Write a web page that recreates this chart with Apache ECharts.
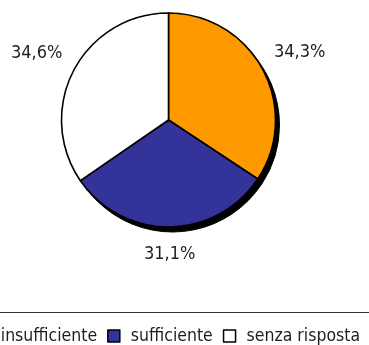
<!DOCTYPE html>
<html>
<head>
<meta charset="utf-8">
<script src="https://cdn.jsdelivr.net/npm/echarts/dist/echarts.min.js"></script>
<style>
  html, body { margin: 0; padding: 0; background: #fff; }
  #chart { width: 369px; height: 345px; }
</style>
</head>
<body>
<div id="chart"></div>
<script>
// Survey answers, percentages
const categories = ['insufficiente', 'sufficiente', 'senza risposta'];
const values = [34.3, 31.1, 34.6];
const colors = ['#FF9900', '#333399', '#FFFFFF'];

const FONT = "'DejaVu Sans Condensed', 'Liberation Sans Narrow', 'Arial Narrow', sans-serif";
const CX = 168.5, CY = 120, R = 107;
const SHADOW_DX = 4, SHADOW_DY = 5;
const LABEL_GAP = 15;
const LABEL_BASELINE_SHIFT = 3;

const total = values.reduce((a, b) => a + b, 0);

function fmt(v) {
  return v.toFixed(1).replace('.', ',') + '%';
}

// Outside label centre, placed along the slice's mid angle
function labelPos(i, w, h) {
  let before = 0;
  for (let k = 0; k < i; k++) before += values[k];
  const a = (before + values[i] / 2) / total * 2 * Math.PI;
  const dx = Math.sin(a), dy = -Math.cos(a);
  const d = R + LABEL_GAP + Math.abs(dx) * w / 2 + Math.abs(dy) * h / 2;
  return { x: CX + dx * d, y: CY + dy * d + LABEL_BASELINE_SHIFT };
}

const chart = echarts.init(document.getElementById('chart'), null, { renderer: 'canvas' });

chart.setOption({
  animation: false,
  color: colors,
  textStyle: { fontFamily: FONT },
  legend: {
    data: categories,
    left: -23,
    top: 327,
    width: 440,
    padding: 0,
    itemGap: 10,
    itemWidth: 12,
    itemHeight: 12,
    icon: 'rect',
    selectedMode: false,
    itemStyle: { borderColor: '#000', borderWidth: 1.5 },
    textStyle: { fontFamily: FONT, fontSize: 17.5, color: '#1e1e1e', padding: [0, 0, 0, 6] }
  },
  graphic: [{
    type: 'line',
    shape: { x1: 0, y1: 312.5, x2: 369, y2: 312.5 },
    style: { stroke: '#333', lineWidth: 1 },
    silent: true
  }],
  series: [
    {
      // drop shadow behind the pie
      type: 'pie',
      silent: true,
      center: [CX + SHADOW_DX, CY + SHADOW_DY],
      radius: R,
      startAngle: 90,
      clockwise: true,
      label: { show: false },
      labelLine: { show: false },
      itemStyle: { color: '#000', borderColor: '#000', borderWidth: 1 },
      data: values.map(v => ({ value: v }))
    },
    {
      type: 'pie',
      center: [CX, CY],
      radius: R,
      startAngle: 90,
      clockwise: true,
      silent: true,
      itemStyle: { borderColor: '#000', borderWidth: 1.6 },
      label: {
        show: true,
        position: 'outside',
        overflow: 'none',
        fontFamily: FONT,
        fontSize: 18,
        color: '#1e1e1e',
        formatter: p => fmt(p.value)
      },
      labelLine: { show: false },
      labelLayout: p => {
        const pos = labelPos(p.dataIndex, p.labelRect.width, p.labelRect.height);
        return { x: pos.x, y: pos.y, align: 'center', verticalAlign: 'middle' };
      },
      data: categories.map((c, i) => ({ name: c, value: values[i] }))
    }
  ]
});
</script>
</body>
</html>
